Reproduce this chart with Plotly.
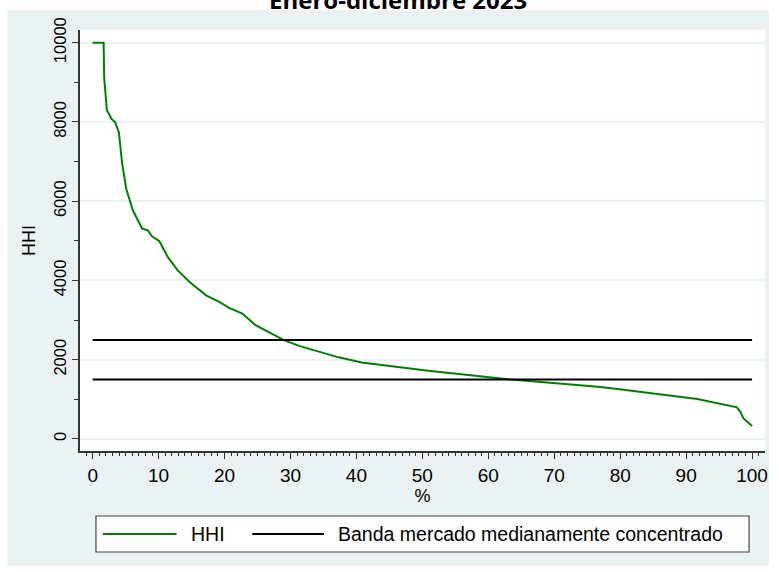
import plotly.graph_objects as go

# datos
pct = [0, 1.66, 1.75, 2.0, 2.16, 2.5, 2.82, 3.42, 3.97, 4.48, 5.09, 6.09, 6.84,
       7.5, 8.36, 9.0, 10.1, 11.4, 12.9, 14.7, 17.2, 19.2, 20.7, 22.2, 22.7,
       24.7, 26.7, 29.0, 31.3, 34.3, 37.3, 40.8, 44.9, 50.9, 63.0, 76.6, 79.6,
       91.7, 97.7, 98.2, 98.7, 99.5, 100]
hhi = [10000, 10000, 9100, 8600, 8290, 8200, 8080, 7990, 7740, 6940, 6315, 5770,
       5520, 5310, 5265, 5115, 4995, 4590, 4255, 3960, 3625, 3460, 3310, 3205, 3165,
       2870, 2690, 2495, 2350, 2200, 2060, 1930, 1840, 1720, 1505, 1320, 1260,
       1010, 800, 690, 520, 410, 330]

banda_x = [0, 100]
banda_sup = [2500, 2500]
banda_inf = [1500, 1500]

titulo = "Enero-diciembre 2023"
leyenda = ["HHI", "Banda mercado medianamente concentrado"]
fuente = "Liberation Sans, Arial"
gris = "#eaf2f3"
verde = "#008000"

fig = go.Figure()

fig.add_trace(go.Scatter(x=pct, y=hhi, mode="lines", name=leyenda[0], showlegend=False,
                         line=dict(color=verde, width=2)))
fig.add_trace(go.Scatter(x=banda_x, y=banda_sup, mode="lines", name=leyenda[1],
                         showlegend=False, line=dict(color="black", width=2)))
fig.add_trace(go.Scatter(x=banda_x, y=banda_inf, mode="lines", showlegend=False,
                         line=dict(color="black", width=2)))

# fondo gris exterior (estilo Stata) y area de grafico blanca
fig.add_shape(type="rect", xref="paper", yref="paper",
              x0=-0.1061, x1=1.0058, y0=-0.2732, y1=1.0475,
              fillcolor=gris, line=dict(width=0), layer="below")
fig.add_shape(type="rect", xref="paper", yref="paper",
              x0=0, x1=1, y0=0, y1=1,
              fillcolor="white", line=dict(width=0), layer="below")

# leyenda manual en recuadro
fig.add_shape(type="rect", xref="paper", yref="paper",
              x0=0.0233, x1=0.9767, y0=-0.2399, y1=-0.1544,
              fillcolor="white", line=dict(color="#444444", width=1.2))
fig.add_shape(type="line", xref="paper", yref="paper",
              x0=0.0334, x1=0.1410, y0=-0.1971, y1=-0.1971,
              line=dict(color=verde, width=2))
fig.add_shape(type="line", xref="paper", yref="paper",
              x0=0.2515, x1=0.3561, y0=-0.1971, y1=-0.1971,
              line=dict(color="black", width=2))
fig.add_annotation(text=leyenda[0], xref="paper", yref="paper", x=0.1584, y=-0.1971,
                   xanchor="left", yanchor="middle", showarrow=False,
                   font=dict(family=fuente, size=19.5))
fig.add_annotation(text=leyenda[1], xref="paper", yref="paper", x=0.3735, y=-0.1971,
                   xanchor="left", yanchor="middle", showarrow=False,
                   font=dict(family=fuente, size=19.5))

fig.add_annotation(text="<b>" + titulo + "</b>", xref="paper", yref="paper",
                   x=0.4637, y=1.0736, xanchor="center", yanchor="middle",
                   showarrow=False, font=dict(family="Open Sans, Liberation Sans", size=24))

fig.update_layout(
    width=779, height=572,
    paper_bgcolor="white", plot_bgcolor="white",
    margin=dict(l=80, r=11, t=30, b=121),
    font=dict(family=fuente, size=18, color="black"),
    showlegend=False,
    xaxis=dict(range=[-1.92, 101.96], tickvals=list(range(0, 101, 10)),
               title=dict(text="%", standoff=0, font=dict(size=18)),
               tickfont=dict(size=19),
               showgrid=False, zeroline=False, showline=True, linecolor="#333333",
               linewidth=1.5, ticks="outside", ticklen=6, tickcolor="#333333",
               minor=dict(dtick=1, ticks="outside", ticklen=3, tickcolor="#333333")),
    yaxis=dict(range=[-303, 10320], tickvals=list(range(0, 10001, 2000)),
               tickformat="d", tickangle=-90, tickfont=dict(size=16.5),
               title=dict(text="HHI", standoff=10, font=dict(size=18)),
               showgrid=True, gridcolor=gris, gridwidth=1.5, zeroline=False,
               showline=True, linecolor="#333333", linewidth=1.5,
               ticks="outside", ticklen=6, tickcolor="#333333",
               minor=dict(dtick=1000, ticks="outside", ticklen=4, tickcolor="#333333",
                          showgrid=False)),
)

# quitar el margen por defecto del body para que la figura llene la ventana
fig.write_html("out.html", config={"displayModeBar": False},
               post_script="document.body.style.margin='0';")
